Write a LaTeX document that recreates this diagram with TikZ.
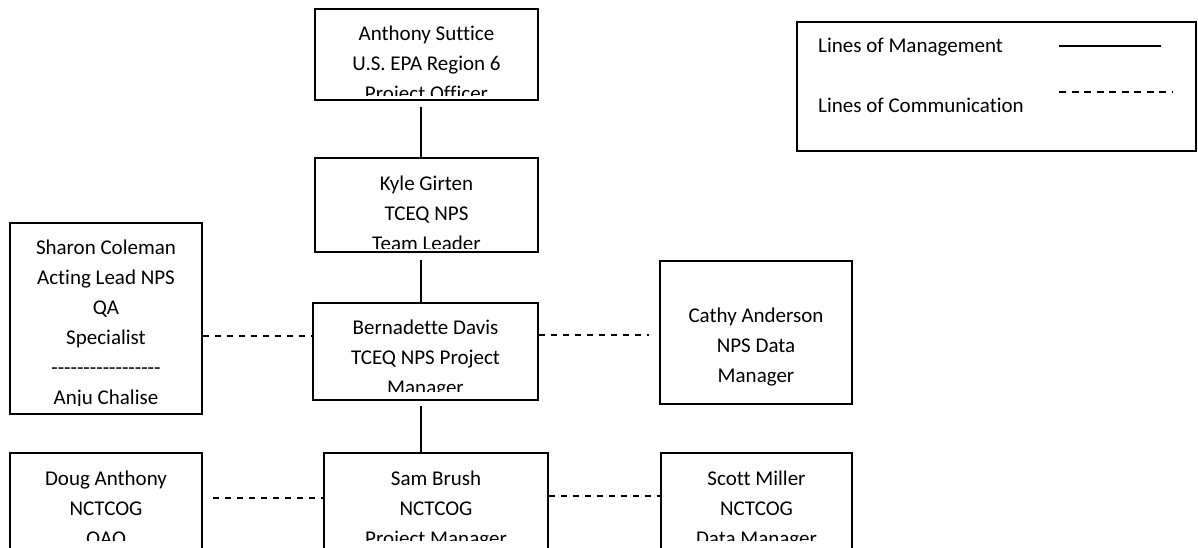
\documentclass[tikz,border=0pt]{standalone}
\usepackage{fontspec}
\setmainfont{Carlito}[Ligatures=NoCommon]
\newcommand\lbfont{\fontsize{21}{30.3}\selectfont}
\newcommand\hy{-\kern0pt}
\tikzset{
  box/.style={draw, line width=1.5pt, inner sep=0pt, rectangle},
  lbl/.style={align=center, inner sep=0pt, anchor=north, font=\lbfont},
  mgmt/.style={line width=1.3pt},
  comm/.style={line width=1.3pt, dash pattern=on 6pt off 6pt},
}
\newcommand\tl{\rule{0pt}{20pt}}
\begin{document}
\begin{tikzpicture}[x=1pt,y=1pt]
\useasboundingbox (0,0) rectangle (1198,-547);
\begin{scope}
\clip (0,0) rectangle (1198,-547);
% boxes
\node[box, minimum width=223pt, minimum height=91pt] (A) at (426.5,-54.5) {};
\node[box, minimum width=223pt, minimum height=94pt] (K) at (426.5,-205) {};
\node[box, minimum width=225pt, minimum height=97pt] (B) at (425.5,-351.5) {};
\node[box, minimum width=192pt, minimum height=191pt] (S) at (106,-318.5) {};
\node[box, minimum width=192pt, minimum height=143pt] (C) at (756,-332.5) {};
\node[box, minimum width=192pt, minimum height=147pt] (D) at (106,-526.5) {};
\node[box, minimum width=224pt, minimum height=147pt] (M) at (436,-526.5) {};
\node[box, minimum width=191pt, minimum height=147pt] (T) at (756.5,-526.5) {};
\node[box, minimum width=399pt, minimum height=129pt] (L) at (996.5,-86.5) {};
% texts (clipped inside boxes)
\begin{scope}
\clip ([xshift=3pt,yshift=5pt]A.south west) rectangle ([xshift=-3pt,yshift=-3pt]A.north east);
\node[lbl] (At) at (426.5,-20) {\tl Anthony Suttice\\U.S. EPA Region 6\\Project Officer};
\end{scope}
\begin{scope}
\clip ([xshift=3pt,yshift=4pt]K.south west) rectangle ([xshift=-3pt,yshift=-3pt]K.north east);
\node[lbl] (Kt) at (426.5,-170) {\tl Kyle Girten\\TCEQ NPS\\Team Leader};
\end{scope}
\begin{scope}
\clip ([xshift=3pt,yshift=9pt]B.south west) rectangle ([xshift=-3pt,yshift=-3pt]B.north east);
\node[lbl] (Bt) at (425.5,-314) {\tl Bernadette Davis\\TCEQ NPS Project\\Manager};
\end{scope}
\begin{scope}
\clip ([xshift=3pt,yshift=9pt]S.south west) rectangle ([xshift=-3pt,yshift=-3pt]S.north east);
\node[lbl, font=\fontsize{21}{30}\selectfont] (St) at (106,-234) {\tl Sharon Coleman\\Acting Lead NPS\\QA\\Specialist\\\hy\hy\hy\hy\hy\hy\hy\hy\hy\hy\hy\hy\hy\hy\hy\hy\hy\\Anju Chalise};
\end{scope}
\node[lbl] (Ct) at (756,-302) {\tl Cathy Anderson\\NPS Data\\Manager};
\begin{scope}
\clip (0,-440) rectangle (1198,-540);
\node[lbl] (Dt) at (106,-465) {\tl Doug Anthony\\NCTCOG\\QAO};
\node[lbl] (Mt) at (436,-465) {\tl Sam Brush\\NCTCOG\\Project Manager};
\node[lbl] (Tt) at (756.5,-465) {\tl Scott Miller\\NCTCOG\\Data Manager};
\end{scope}
% legend
\node[font=\lbfont, anchor=base west, inner sep=0pt] (L1) at (818,-52) {Lines of Management};
\node[font=\lbfont, anchor=base west, inner sep=0pt] (L2) at (818,-112) {Lines of Communication};
\coordinate (ms) at (1059,-46);
\coordinate (me) at (1161,-46);
\coordinate (cs) at (1059,-92);
\coordinate (ce) at (1172,-92);
\draw[mgmt] (ms) -- (me);
\draw[line width=1.3pt, dash pattern=on 7pt off 5.5pt] (cs) -- (ce);
% lines of management
\draw[mgmt] ([xshift=-5.5pt,yshift=-6pt]A.south) -- ([xshift=-5.5pt]K.north);
\draw[mgmt] ([xshift=-5.5pt,yshift=-7pt]K.south) -- ([xshift=-4.5pt]B.north);
\draw[mgmt] ([xshift=-4.5pt,yshift=-5pt]B.south) -- ([xshift=-15pt]M.north);
% lines of communication
\draw[comm] ([yshift=-17.5pt]S.east) -- ([yshift=15.5pt]B.west);
\draw[comm] ([yshift=16.5pt]B.east) -- ([xshift=-10pt,yshift=-2.5pt]C.west);
\draw[comm] ([xshift=10pt,yshift=28.5pt]D.east) -- ([yshift=28.5pt]M.west);
\draw[comm] ([yshift=30.5pt]M.east) -- ([yshift=30.5pt]T.west);
\end{scope}
\end{tikzpicture}
\end{document}
